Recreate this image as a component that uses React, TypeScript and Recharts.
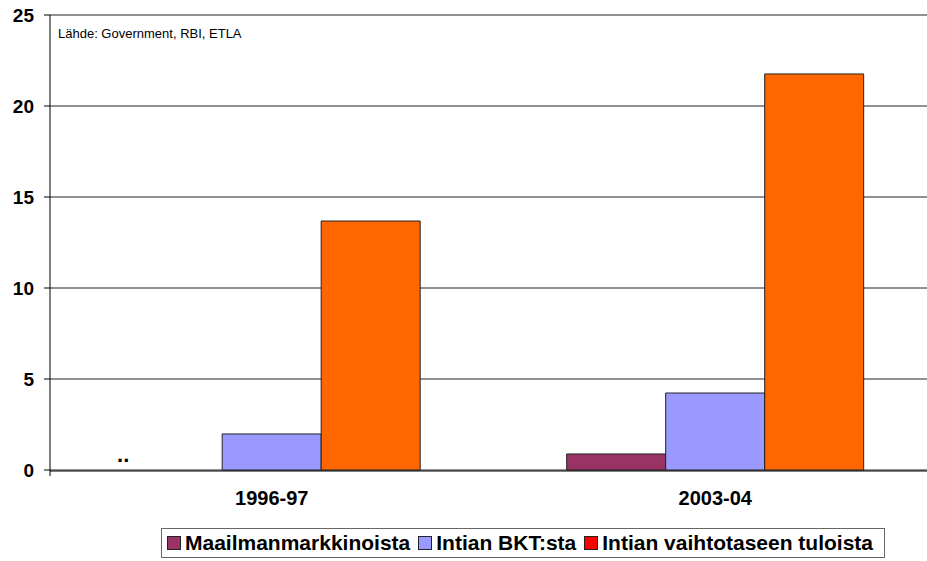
import { Bar, BarChart, CartesianGrid, LabelList, XAxis, YAxis } from "recharts";

const categories = ["1996-97", "2003-04"];
const maailmanmarkkinoista = [null, 0.88];
const intianBkt = [1.98, 4.23];
const vaihtotase = [13.68, 21.76];
const notes = ["..", ""];
const yTicks = [0, 5, 10, 15, 20, 25];
const edgeTicks = [0, 1, 2];

const data = categories.map((name, i) => ({
  name,
  maailma: maailmanmarkkinoista[i],
  bkt: intianBkt[i],
  vaihto: vaihtotase[i],
  note: notes[i],
}));

const FONT = "'Liberation Sans', Arial, sans-serif";

const legendItems = [
  { label: "Maailmanmarkkinoista", color: "#993366" },
  { label: "Intian BKT:sta", color: "#9999FF" },
  { label: "Intian vaihtotaseen tuloista", color: "#FF0000" },
];

function ChartLegend() {
  return (
    <div
      style={{
        position: "absolute",
        top: 528,
        left: 161,
        display: "inline-flex",
        alignItems: "center",
        border: "1px solid #666",
        height: 28,
        padding: "0 3px 0 5px",
        fontFamily: FONT,
        fontWeight: "bold",
        fontSize: 21,
        background: "#fff",
        whiteSpace: "nowrap",
      }}
    >
      {legendItems.map((item) => (
        <span key={item.label} style={{ display: "inline-flex", alignItems: "center", marginRight: 8 }}>
          <span
            style={{
              display: "inline-block",
              width: 12,
              height: 12,
              background: item.color,
              border: "1px solid #222",
              marginRight: 4,
            }}
          />
          {item.label}
        </span>
      ))}
    </div>
  );
}

// the missing first-series value is shown as ".." in the empty slot left of the BKT bar
function NoteLabel(props: any) {
  const { x, y, width, height, value } = props;
  if (!value) return null;
  return (
    <text
      x={x - width}
      y={y + height - 8}
      textAnchor="middle"
      fontFamily={FONT}
      fontWeight="bold"
      fontSize={22}
      fill="#000"
    >
      {value}
    </text>
  );
}

const EmptyTick = () => <g />;

export default function App() {
  return (
    <div
      style={{
        position: "fixed",
        top: 0,
        left: 0,
        width: 927,
        height: 561,
        overflow: "hidden",
        background: "#fff",
      }}
    >
      <BarChart
        width={945}
        height={561}
        data={data}
        margin={{ top: 15, right: 8, left: 0, bottom: 51 }}
        barCategoryGap="16.5%"
        barGap={0}
      >
        <CartesianGrid xAxisId="z" vertical={false} stroke="#222" strokeWidth={1} />
        <text x={58} y={38} fontFamily={FONT} fontSize={13} fill="#000">
          Lähde: Government, RBI, ETLA
        </text>
        <XAxis
          xAxisId="z"
          dataKey="name"
          height={39}
          axisLine={{ stroke: "#000" }}
          tickLine={false}
          tick={{ fill: "#000", fontSize: 20, fontWeight: "bold", fontFamily: FONT }}
          tickMargin={14}
        />
        {/* tick marks between categories */}
        <XAxis
          xAxisId="edges"
          type="number"
          domain={[0, 2]}
          ticks={edgeTicks}
          interval={0}
          height={1}
          axisLine={false}
          tick={EmptyTick}
          tickLine={{ stroke: "#000" }}
          tickSize={6}
        />
        <YAxis
          width={50}
          domain={[0, 25]}
          ticks={yTicks}
          interval={0}
          axisLine={{ stroke: "#000" }}
          tickLine={{ stroke: "#000" }}
          tickSize={6}
          tickMargin={10}
          tick={{ fill: "#000", fontSize: 19, fontWeight: "bold", fontFamily: FONT }}
        />
        <Bar xAxisId="z" dataKey="maailma" fill="#993366" stroke="#222" strokeWidth={1} isAnimationActive={false} />
        <Bar xAxisId="z" dataKey="bkt" fill="#9999FF" stroke="#222" strokeWidth={1} isAnimationActive={false}>
          <LabelList dataKey="note" content={<NoteLabel />} />
        </Bar>
        <Bar xAxisId="z" dataKey="vaihto" fill="#FF6600" stroke="#222" strokeWidth={1} isAnimationActive={false} />
      </BarChart>
      <ChartLegend />
    </div>
  );
}
